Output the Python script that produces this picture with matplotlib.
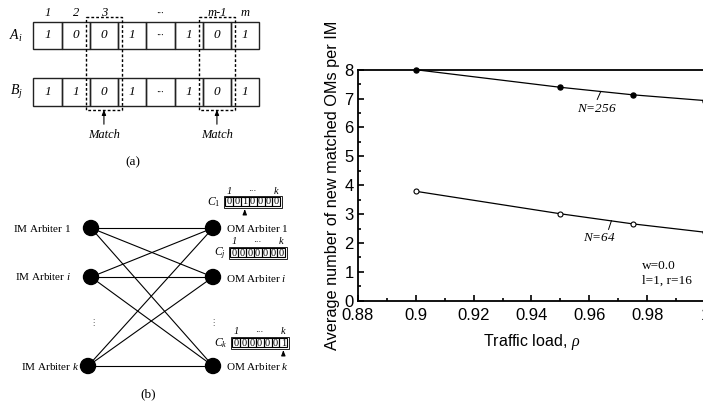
import matplotlib
matplotlib.use('Agg')
import matplotlib.pyplot as plt
from matplotlib.patches import Rectangle, Circle
from matplotlib.ticker import MultipleLocator

plt.rcParams['mathtext.fontset'] = 'custom'
plt.rcParams['mathtext.rm'] = 'Liberation Serif'
plt.rcParams['mathtext.it'] = 'Liberation Serif:italic'

# ---- chart data (right panel) ----
rho = [0.9, 0.95, 0.975, 1.0]
oms_n256 = [8.0, 7.39, 7.13, 6.93]
oms_n64 = [3.79, 3.01, 2.66, 2.37]
x_ticks = [0.88, 0.9, 0.92, 0.94, 0.96, 0.98, 1.0]
x_tick_labels = ['0.88', '0.9', '0.92', '0.94', '0.96', '0.98', '1']

# ---- diagram data (left panels) ----
bits_a = ['1', '0', '0', '1', '···', '1', '0', '1']
bits_b = ['1', '1', '0', '1', '···', '1', '0', '1']
col_labels = ['1', '2', '3', '', '···', '', 'm-1', 'm']
match_cols = [2, 6]
arbiter_ids = ['1', 'i', 'k']
reg_names = ['1', 'j', 'k']
reg_bits = [['0', '0', '1', '0', '0', '0', '0'],
            ['0', '0', '0', '0', '0', '0', '0'],
            ['0', '0', '0', '0', '0', '0', '1']]
reg_arrow = [2, None, 6]

W, H = 703, 404
fig = plt.figure(figsize=(W / 100, H / 100), dpi=100)

# overlay axes in pixel coordinates for the schematic drawings
ax0 = fig.add_axes([0, 0, 1, 1])
ax0.set_xlim(0, W)
ax0.set_ylim(H, 0)
ax0.axis('off')

serif = ['Liberation Serif', 'DejaVu Serif']
arrow = dict(arrowstyle='-|>,head_length=0.3,head_width=0.12', lw=0.8, color='black')

# (a) bit vectors
cw, x0 = 28.25, 33.3
rows = [(21.7, 49.3, bits_a, 'A', 'i'), (78.3, 106.0, bits_b, 'B', 'j')]
for y_top, y_bot, bits, name, sub in rows:
    for c, b in enumerate(bits):
        ax0.add_patch(Rectangle((x0 + c * cw, y_top), cw, y_bot - y_top,
                                fill=False, lw=1.0, ec='#222222'))
        ax0.text(x0 + (c + 0.5) * cw, (y_top + y_bot) / 2, b, family=serif,
                 style='italic', fontsize=9.5 if b != '···' else 7,
                 ha='center', va='center')
    ax0.text(16, (y_top + y_bot) / 2, r'$%s_{%s}$' % (name, sub),
             fontsize=10, ha='center', va='center')
for c, lab in enumerate(col_labels):
    if lab:
        ax0.text(x0 + (c + 0.5) * cw, 13, lab, family=serif, style='italic',
                 fontsize=9 if lab != '···' else 7, ha='center', va='center')
for c in match_cols:
    xc = x0 + (c + 0.5) * cw
    ax0.add_patch(Rectangle((x0 + c * cw - 3.5, 16.5), cw + 7, 93, fill=False,
                            lw=1.0, ls=(0, (2, 1.5)), ec='black', zorder=3))
    ax0.annotate('', xy=(xc, 107), xytext=(xc, 127), arrowprops=arrow)
    ax0.text(xc, 135, 'Match', family=serif, style='italic', fontsize=9,
             ha='center', va='center')
ax0.text(133, 162, '(a)', family=serif, fontsize=9.5, ha='center', va='center')

# (b) arbiter bipartite graph
left_x = [91, 91, 88]
right_x = [213, 213, 213]
node_y = [228, 277, 366]
label_gap = [20, 20, 9]
for i in range(3):
    for j in range(3):
        ax0.plot([left_x[i], right_x[j]], [node_y[i], node_y[j]], color='black',
                 lw=0.8, zorder=2)
for i, a in enumerate(arbiter_ids):
    ax0.add_patch(Circle((left_x[i], node_y[i]), 7.5, color='black', zorder=4))
    ax0.add_patch(Circle((right_x[i], node_y[i]), 7.5, color='black', zorder=4))
    ax0.text(left_x[i] - label_gap[i], node_y[i], r'IM Arbiter $\mathit{%s}$' % a,
             family=serif, fontsize=8, ha='right', va='center')
    ax0.text(right_x[i] + 13, node_y[i] + 1, r'OM Arbiter $\mathit{%s}$' % a,
             family=serif, fontsize=8, ha='left', va='center')
for xv in (93, 213):
    ax0.text(xv, 322, '⋮', family=['DejaVu Sans'], fontsize=6, ha='center',
             va='center', color='#555555')

reg_x = [225, 230, 232]
reg_y = [197, 248, 338]
rcw, rh = 7.9, 9
for r in range(3):
    rx, ry = reg_x[r], reg_y[r]
    for c, b in enumerate(reg_bits[r]):
        ax0.add_patch(Rectangle((rx + c * rcw, ry), rcw, rh, fill=False,
                                lw=0.8, ec='black'))
        ax0.text(rx + (c + 0.5) * rcw, ry + rh / 2 + 0.5, b, family=serif,
                 fontsize=7.5, ha='center', va='center')
    ax0.add_patch(Rectangle((rx - 1.5, ry - 1.5), 7 * rcw + 3, rh + 3,
                            fill=False, lw=0.6, ec='black'))
    ax0.text(rx + 0.5 * rcw, ry - 6, '1', family=serif, style='italic',
             fontsize=7.5, ha='center', va='center')
    ax0.text(rx + 3.5 * rcw, ry - 6, '···', family=serif, fontsize=6,
             ha='center', va='center')
    ax0.text(rx + 6.5 * rcw, ry - 6, 'k', family=serif, style='italic',
             fontsize=7.5, ha='center', va='center')
    ax0.text(rx - 4, ry + rh / 2 + 1, r'$C_{\mathit{%s}}$' % reg_names[r],
             fontsize=8.5, ha='right', va='center')
    if reg_arrow[r] is not None:
        xa = rx + (reg_arrow[r] + 0.5) * rcw
        ax0.annotate('', xy=(xa, ry + rh + 0.5), xytext=(xa, ry + rh + 9),
                     arrowprops=arrow)
ax0.text(148, 394, '(b)', family=serif, fontsize=9.5, ha='center', va='center')

# right: chart
ax = fig.add_axes([357.7 / W, 103.3 / H, 347.6 / W, 231.0 / H])
ax.plot(rho, oms_n256, color='black', lw=0.9, marker='o', ms=3.6,
        mfc='black', mec='black', clip_on=False)
ax.plot(rho, oms_n64, color='black', lw=0.9, marker='o', ms=3.6,
        mfc='white', mec='black', mew=0.8, clip_on=False)
ax.set_xlim(0.88, 1.0)
ax.set_ylim(0, 8)
ax.set_xticks(x_ticks)
ax.set_xticklabels(x_tick_labels)
ax.xaxis.set_minor_locator(MultipleLocator(0.01))
ax.yaxis.set_major_locator(MultipleLocator(1))
ax.yaxis.set_minor_locator(MultipleLocator(0.5))
ax.tick_params(which='both', direction='in', top=False, right=False,
               labelsize=12)
ax.tick_params(axis='x', which='major', pad=5)
ax.tick_params(axis='y', which='major', pad=3)
ax.tick_params(which='major', length=4, width=1.2)
ax.tick_params(which='minor', length=2.5, width=1.2)
for s in ax.spines.values():
    s.set_linewidth(1.3)
for lbl in ax.get_xticklabels() + ax.get_yticklabels():
    lbl.set_family('Liberation Sans')
ax.set_xlabel(r'Traffic load, $\mathit{\rho}$', family='Liberation Sans',
              fontsize=11.5, labelpad=7)
ax.set_ylabel('Average number of new matched OMs per IM', family='Liberation Sans',
              fontsize=11.7, labelpad=3)

ax.plot([0.9638, 0.9627], [7.22, 6.97], color='black', lw=0.7)
ax.text(0.9626, 6.63, r'$N$=256', family=serif, style='italic', fontsize=9.5,
        ha='center', va='center')
ax.plot([0.9676, 0.9666], [2.77, 2.47], color='black', lw=0.7)
ax.text(0.9635, 2.18, r'$N$=64', family=serif, style='italic', fontsize=9.5,
        ha='center', va='center')
ax.text(0.978, 1.21, 'w=0.0', family=serif, fontsize=9.5, ha='left', va='center')
ax.text(0.978, 0.70, 'l=1, r=16', family=serif, fontsize=9.5, ha='left', va='center')

fig.savefig('out.png', dpi=100)
